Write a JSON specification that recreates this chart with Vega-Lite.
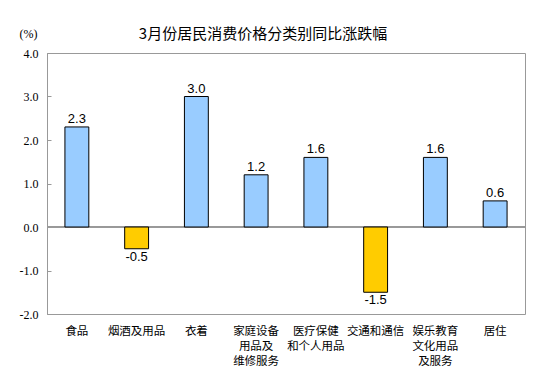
{
  "$schema": "https://vega.github.io/schema/vega-lite/v6.json",
  "width": 478,
  "height": 261,
  "autosize": "none",
  "padding": {"left": 47, "top": 53, "right": 18, "bottom": 75},
  "background": "white",
  "config": {
    "view": {"stroke": "#999999", "strokeWidth": 1},
    "font": "Noto Sans CJK SC"
  },
  "title": {
    "text": "3月份居民消费价格分类别同比涨跌幅",
    "font": "Noto Sans CJK SC",
    "fontSize": 15,
    "fontWeight": "normal",
    "color": "#000000",
    "anchor": "middle",
    "dx": -23,
    "offset": -15
  },
  "data": {
    "values": [
      {"cat": "食品", "v": 2.3},
      {"cat": "烟酒及用品", "v": -0.5},
      {"cat": "衣着", "v": 3.0},
      {"cat": "家庭设备|用品及|维修服务", "v": 1.2},
      {"cat": "医疗保健|和个人用品", "v": 1.6},
      {"cat": "交通和通信", "v": -1.5},
      {"cat": "娱乐教育|文化用品|及服务", "v": 1.6},
      {"cat": "居住", "v": 0.6}
    ]
  },
  "transform": [
    {"calculate": "replace(format(datum.v, '.1f'), '\u2212', '-')", "as": "lbl"}
  ],
  "encoding": {
    "x": {
      "field": "cat",
      "type": "nominal",
      "sort": null,
      "scale": {"paddingInner": 0.6, "paddingOuter": 0.3},
      "axis": {
        "title": null,
        "labelAngle": 0,
        "domain": false,
        "ticks": false,
        "labelPadding": 11,
        "labelExpr": "split(datum.label, '|')",
        "labelFont": "Noto Sans CJK SC",
        "labelFontSize": 11.5,
        "labelLineHeight": 15,
        "labelColor": "#000000",
        "labelBaseline": "top"
      }
    }
  },
  "layer": [
    {
      "mark": {"type": "rule", "color": "#999999", "strokeWidth": 1},
      "encoding": {"x": null, "y": {"datum": 0, "type": "quantitative"}}
    },
    {
      "mark": {"type": "bar", "stroke": "#000000", "strokeWidth": 1},
      "encoding": {
        "y": {
          "field": "v",
          "type": "quantitative",
          "scale": {"domain": [-2, 4], "nice": false, "zero": false},
          "axis": {
            "values": [-2, -1, 0, 1, 2, 3, 4],
            "labelExpr": "replace(format(datum.value, '.1f'), '\u2212', '-')",
            "grid": false,
            "domainColor": "#999999",
            "tickColor": "#999999",
            "tickSize": -4,
            "labelPadding": 13,
            "labelFont": "Liberation Serif",
            "labelFontSize": 12,
            "labelColor": "#000000",
            "title": "(%)",
            "titleAngle": 0,
            "titleFont": "Liberation Serif",
            "titleFontSize": 12,
            "titleFontWeight": "normal",
            "titleColor": "#000000",
            "titleX": -19,
            "titleY": -20,
            "titleAlign": "center",
            "titleBaseline": "middle"
          }
        },
        "color": {
          "condition": {"test": "datum.v < 0", "value": "#FFCC00"},
          "value": "#99CCFF"
        }
      }
    },
    {
      "transform": [{"filter": "datum.v >= 0"}],
      "mark": {"type": "text", "baseline": "bottom", "dy": -1, "font": "Liberation Sans", "fontSize": 13, "color": "#000000"},
      "encoding": {
        "y": {"field": "v", "type": "quantitative"},
        "text": {"field": "lbl", "type": "nominal"}
      }
    },
    {
      "transform": [{"filter": "datum.v < 0"}],
      "mark": {"type": "text", "baseline": "top", "dy": 2, "font": "Liberation Sans", "fontSize": 13, "color": "#000000"},
      "encoding": {
        "y": {"field": "v", "type": "quantitative"},
        "text": {"field": "lbl", "type": "nominal"}
      }
    }
  ]
}
